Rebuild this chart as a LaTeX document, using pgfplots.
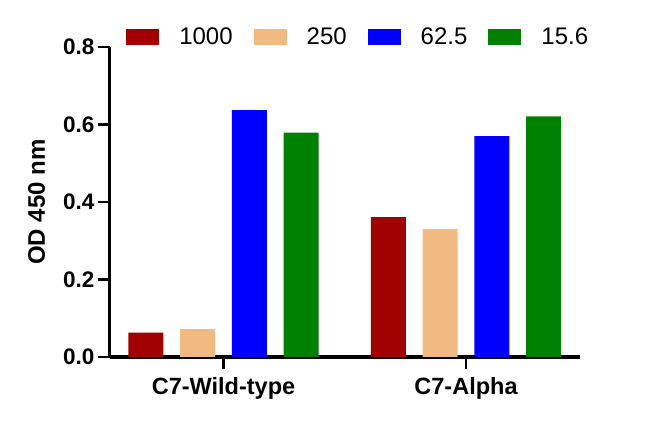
\documentclass[border=0pt]{standalone}
\usepackage{pgfplots}
\pgfplotsset{compat=1.18}
\usepackage{fontspec}
\setmainfont{Liberation Sans}
\definecolor{cRed}{RGB}{160,0,0}
\definecolor{cTan}{RGB}{241,186,128}
\definecolor{cBlue}{RGB}{0,0,255}
\definecolor{cGreen}{RGB}{0,128,0}

\begin{document}
\begin{tikzpicture}
\useasboundingbox (-110bp,-64bp) rectangle (540bp,357bp);
\begin{axis}[
	at={(0,0)}, anchor=south west,
	width=470bp, height=310bp, scale only axis,
	xmin=-0.468, xmax=1.47, ymin=0, ymax=0.8,
	axis x line*=bottom, axis y line*=left,
	axis line style={line width=3bp, black},
	xtick={0,1}, xticklabels={C7-Wild-type, C7-Alpha},
	ytick={0,0.2,0.4,0.6,0.8},
	minor tick num=0,
	tick align=outside, major tick length=12bp,
	tick style={line width=2.8bp, black},
	/pgf/number format/assume math mode=true,
	yticklabel style={/pgf/number format/.cd, fixed, fixed zerofill, precision=1},
	ticklabel style={font=\fontsize{22.5bp}{26bp}\selectfont\bfseries},
	xticklabel style={font=\fontsize{23.5bp}{27bp}\selectfont\bfseries, yshift=-5bp},
	ylabel={OD 450 nm},
	ylabel style={font=\fontsize{24bp}{28bp}\selectfont\bfseries,
		at={(axis description cs:-0.156,0.5)}, anchor=center},
	ybar=16.7bp, bar width=35bp,
	legend columns=4,
	legend style={at={(0.526,1.032)}, anchor=center, draw=none, fill=none,
		font=\fontsize{24bp}{28bp}\selectfont,
		nodes={inner xsep=0pt},
		/tikz/every odd column/.append style={column sep=20bp},
		/tikz/every even column/.append style={column sep=21bp}},
	legend image code/.code={\fill[#1] (0bp,-8bp) rectangle (33bp,8bp);},
]
	\addplot[fill=cRed, draw=none] coordinates {(0,0.063) (1,0.361)};
	\addplot[fill=cTan, draw=none] coordinates {(0,0.072) (1,0.330)};
	\addplot[fill=cBlue, draw=none] coordinates {(0,0.637) (1,0.570)};
	\addplot[fill=cGreen, draw=none] coordinates {(0,0.579) (1,0.621)};
	\legend{1000, 250, 62.5, 15.6}
\end{axis}
\end{tikzpicture}
\end{document}
